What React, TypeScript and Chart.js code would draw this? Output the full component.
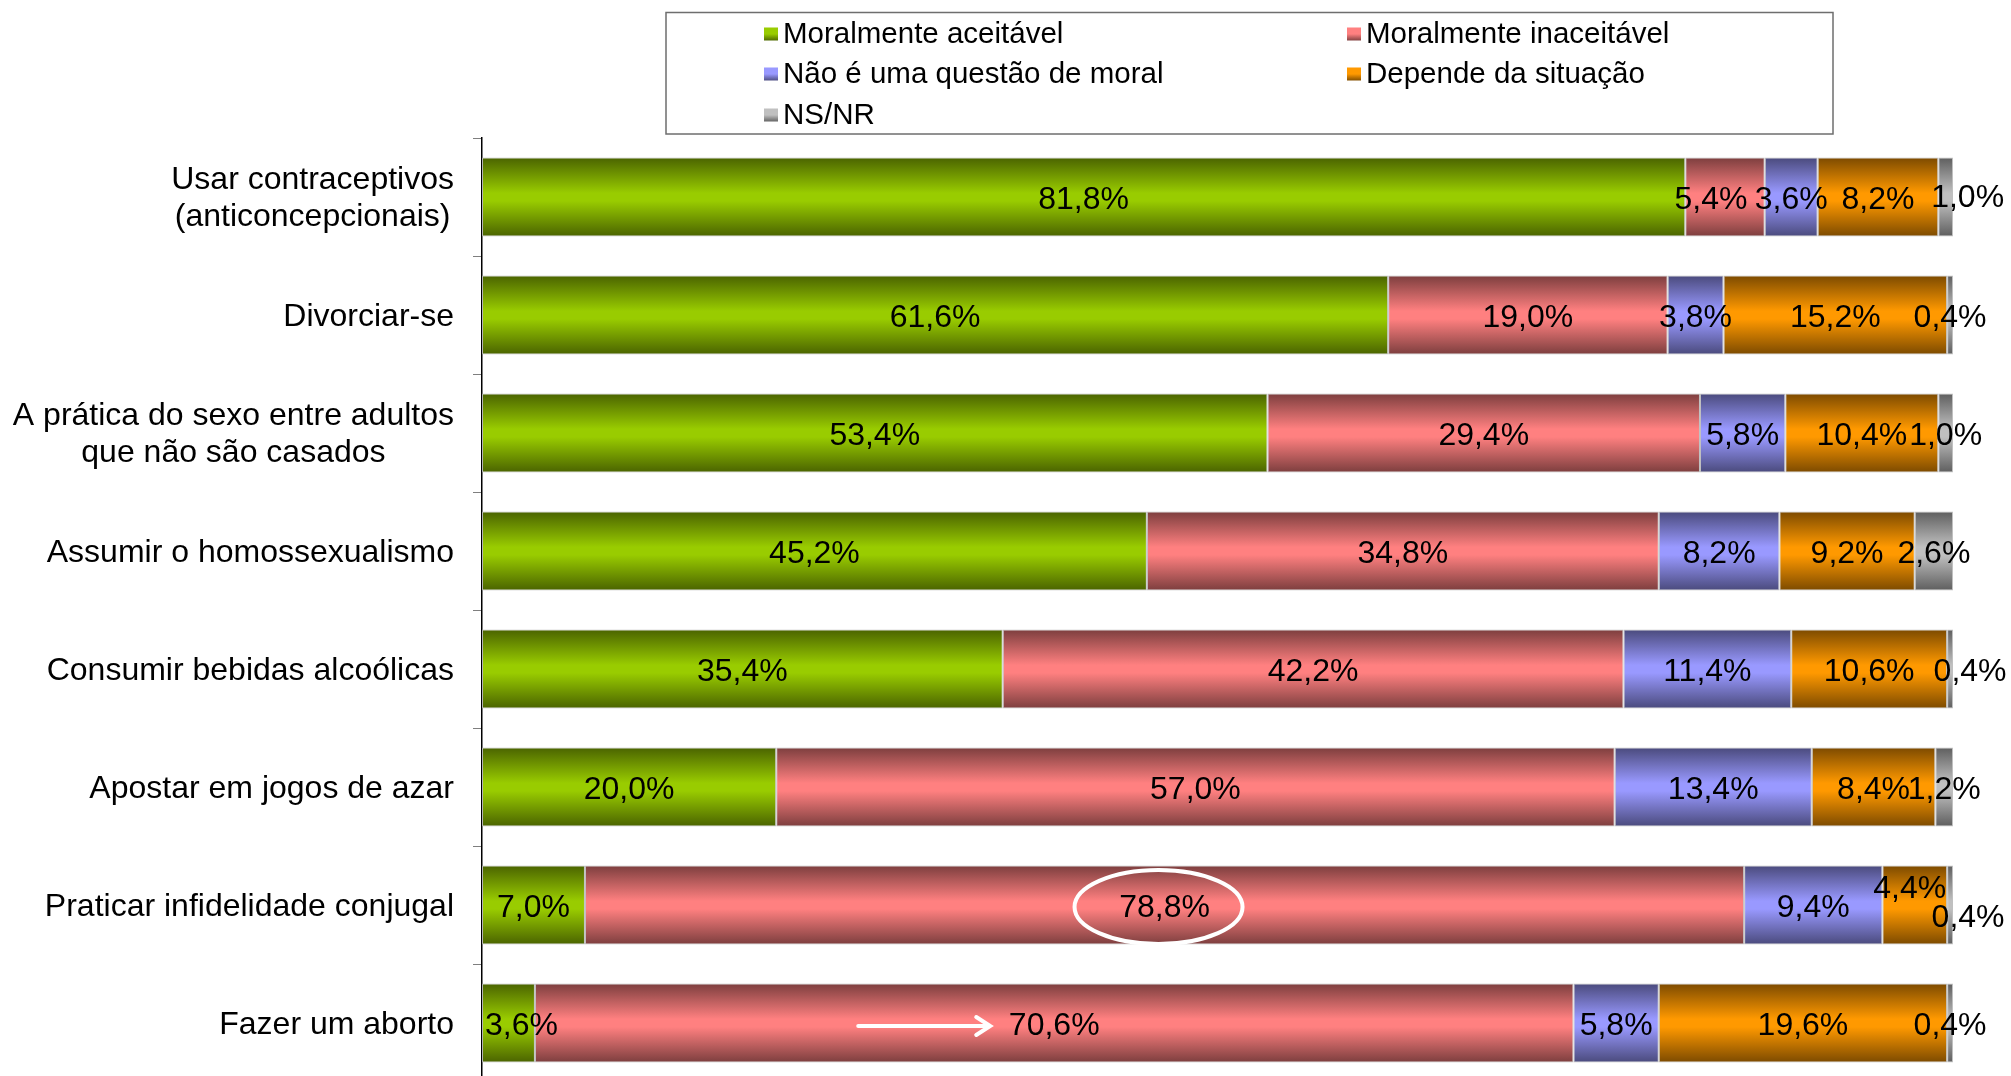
import React, { useEffect, useRef } from 'react';
import { Chart, registerables } from 'chart.js';

Chart.register(...registerables);

const categories: (string | string[])[] = [
  ['Usar contraceptivos', '(anticoncepcionais)'],
  'Divorciar-se',
  ['A prática do sexo entre adultos', 'que não são casados'],
  'Assumir o homossexualismo',
  'Consumir bebidas alcoólicas',
  'Apostar em jogos de azar',
  'Praticar infidelidade conjugal',
  'Fazer um aborto',
];

const seriesNames = [
  'Moralmente aceitável',
  'Moralmente inaceitável',
  'Não é uma questão de moral',
  'Depende da situação',
  'NS/NR',
];

const aceitavel = [81.8, 61.6, 53.4, 45.2, 35.4, 20.0, 7.0, 3.6];
const inaceitavel = [5.4, 19.0, 29.4, 34.8, 42.2, 57.0, 78.8, 70.6];
const naoMoral = [3.6, 3.8, 5.8, 8.2, 11.4, 13.4, 9.4, 5.8];
const depende = [8.2, 15.2, 10.4, 9.2, 10.6, 8.4, 4.4, 19.6];
const nsnr = [1.0, 0.4, 1.0, 2.6, 0.4, 1.2, 0.4, 0.4];

const seriesValues = [aceitavel, inaceitavel, naoMoral, depende, nsnr];

const palette = [
  { bright: '#99CC00', dark: '#4A6300' },
  { bright: '#FF8080', dark: '#7C3E3E' },
  { bright: '#9999FF', dark: '#4A4A7C' },
  { bright: '#FF9900', dark: '#7C4A00' },
  { bright: '#C0C0C0', dark: '#5E5E5E' },
];

// small manual nudges of some value labels, as in the original slide
const labelNudges = [
  { series: 1, index: 0, dx: -14, dy: 0 },
  { series: 4, index: 0, dx: 22, dy: -2 },
  { series: 4, index: 4, dx: 20, dy: 0 },
  { series: 3, index: 6, dx: -5, dy: -19 },
  { series: 4, index: 6, dx: 18, dy: 10 },
  { series: 0, index: 7, dx: 13, dy: 0 },
];

const FONT = '"Liberation Sans", Arial, Helvetica, sans-serif';
const BAR_PCT = 0.67;

const fmt = (v: number) => v.toFixed(1).replace('.', ',') + '%';

function barGradient(ctx: CanvasRenderingContext2D, y0: number, y1: number, dark: string, bright: string) {
  const g = ctx.createLinearGradient(0, y0, 0, y1);
  g.addColorStop(0, dark);
  g.addColorStop(0.45, bright);
  g.addColorStop(0.55, bright);
  g.addColorStop(1, dark);
  return g;
}

const customDraw = {
  id: 'customDraw',
  afterDatasetsDraw(chart: any) {
    const ctx: CanvasRenderingContext2D = chart.ctx;
    const area = chart.chartArea;
    const ys = chart.scales.y;
    ctx.save();
    ctx.fillStyle = '#000';
    ctx.textBaseline = 'middle';
    ctx.textAlign = 'center';

    // category labels (block right-aligned, lines centered)
    ctx.font = `32px ${FONT}`;
    const lh = 37;
    categories.forEach((c, i) => {
      const lines = Array.isArray(c) ? c : [c];
      const w = Math.max(...lines.map((l) => ctx.measureText(l).width));
      const cx = area.left - 28 - w / 2;
      const cy = ys.getPixelForValue(i) + 2;
      lines.forEach((l, j) => ctx.fillText(l, cx, cy + (j - (lines.length - 1) / 2) * lh));
    });

    // value labels
    ctx.font = `32px ${FONT}`;
    const pos: Record<string, { x: number; y: number }> = {};
    chart.data.datasets.forEach((ds: any, di: number) => {
      const meta = chart.getDatasetMeta(di);
      meta.data.forEach((el: any, i: number) => {
        const v = ds.data[i] as number;
        const n = labelNudges.find((q) => q.series === di && q.index === i);
        const x = (el.x + el.base) / 2 + (n ? n.dx : 0);
        const y = el.y + 3 + (n ? n.dy : 0);
        pos[di + '-' + i] = { x, y };
        ctx.fillText(fmt(v), x, y);
      });
    });

    // highlight ellipse around infidelity "inaceitável" value
    const e = pos['1-6'];
    if (e) {
      ctx.strokeStyle = '#FFFFFF';
      ctx.lineWidth = 4;
      ctx.beginPath();
      ctx.ellipse(e.x - 6, e.y - 1, 84, 37, 0, 0, Math.PI * 2);
      ctx.stroke();
    }
    // arrow pointing at abortion "inaceitável" value
    const a = pos['1-7'];
    if (a) {
      const x0 = a.x - 196;
      const x1 = a.x - 64;
      ctx.strokeStyle = '#FFFFFF';
      ctx.lineWidth = 4;
      ctx.lineCap = 'round';
      ctx.beginPath();
      ctx.moveTo(x0, a.y);
      ctx.lineTo(x1, a.y);
      ctx.moveTo(x1 - 14, a.y - 9);
      ctx.lineTo(x1, a.y);
      ctx.lineTo(x1 - 14, a.y + 9);
      ctx.stroke();
    }
    ctx.restore();
  },
  afterDraw(chart: any) {
    const ctx: CanvasRenderingContext2D = chart.ctx;
    ctx.save();
    // legend box
    const bx = 666, by = 12.5, bw = 1167, bh = 121.5;
    ctx.strokeStyle = '#6E6E6E';
    ctx.lineWidth = 1.5;
    ctx.strokeRect(bx, by, bw, bh);
    const colSwatch = [764, 1347];
    const rowY = [34, 74, 115];
    ctx.font = `29.5px ${FONT}`;
    ctx.textBaseline = 'middle';
    ctx.textAlign = 'left';
    chart.data.datasets.forEach((ds: any, di: number) => {
      const col = di % 2;
      const row = Math.floor(di / 2);
      const sx = colSwatch[col];
      const sy = rowY[row];
      const g = ctx.createLinearGradient(0, sy - 7, 0, sy + 7);
      g.addColorStop(0, palette[di].bright);
      g.addColorStop(0.5, palette[di].bright);
      g.addColorStop(1, palette[di].dark);
      ctx.fillStyle = g;
      ctx.fillRect(sx, sy - 6.5, 14, 13);
      ctx.fillStyle = '#000';
      ctx.fillText(ds.label, sx + 19, sy + 1);
    });
    ctx.restore();
  },
};

export default function App() {
  const ref = useRef<HTMLCanvasElement | null>(null);

  useEffect(() => {
    const canvas = ref.current;
    if (!canvas) return;
    const datasets = seriesValues.map((vals, si) => ({
      label: seriesNames[si],
      data: vals,
      backgroundColor: (c: any) => {
        const chart = c.chart;
        const ys = chart.scales && chart.scales.y;
        if (!ys || c.type !== 'data' || !ys.height) return palette[si].bright;
        const cy = ys.getPixelForValue(c.dataIndex);
        const half = ((ys.height / categories.length) * BAR_PCT) / 2;
        return barGradient(chart.ctx, cy - half, cy + half, palette[si].dark, palette[si].bright);
      },
      borderColor: 'rgba(185,185,185,0.9)',
      borderWidth: 1,
      borderSkipped: false,
      categoryPercentage: 1,
      barPercentage: BAR_PCT,
    }));

    const chart = new Chart(canvas, {
      type: 'bar',
      data: { labels: categories as any, datasets: datasets as any },
      options: {
        indexAxis: 'y',
        responsive: false,
        animation: false,
        devicePixelRatio: 1,
        layout: { padding: { top: 138, right: 58, bottom: 0, left: 0 } },
        plugins: {
          legend: { display: false },
          tooltip: { enabled: false },
          title: { display: false },
        },
        scales: {
          x: {
            stacked: true,
            min: 0,
            max: 100,
            display: false,
          },
          y: {
            stacked: true,
            offset: true,
            afterFit: (s: any) => {
              s.width = 482;
            },
            ticks: { display: false },
            grid: {
              drawOnChartArea: false,
              drawTicks: true,
              tickLength: 9,
              color: '#7F7F7F',
              offset: true,
            },
            border: { display: true, color: '#000000', width: 1.5 },
          },
        },
      },
      plugins: [customDraw],
    });
    return () => chart.destroy();
  }, []);

  return (
    <div
      style={{
        position: 'fixed',
        left: 0,
        top: 0,
        width: 2011,
        height: 1076,
        overflow: 'hidden',
        background: '#FFFFFF',
      }}
    >
      <canvas ref={ref} width={2011} height={1082} style={{ display: 'block' }} />
    </div>
  );
}
